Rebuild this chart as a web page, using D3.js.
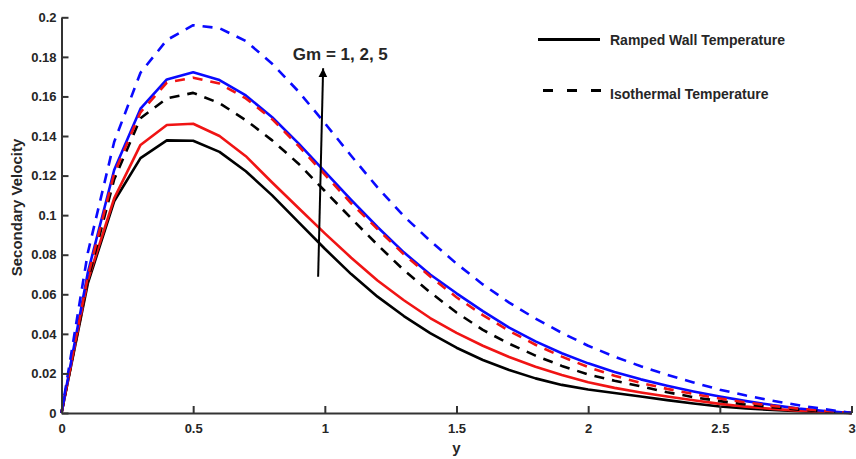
<!DOCTYPE html>
<html>
<head>
<meta charset="utf-8">
<script src="https://cdn.jsdelivr.net/npm/d3@7"></script>
<style>
    body { margin: 0; background: #fff; }
    svg { display: block; }
    text { font-family: "Liberation Sans", Arial, sans-serif; font-weight: bold; fill: #262626; }
</style>
</head>
<body>
<script>
// y positions (0 .. 3, step 0.1)
const yPos = [0, 0.1, 0.2, 0.3, 0.4, 0.5, 0.6, 0.7, 0.8, 0.9, 1.0,
    1.1, 1.2, 1.3, 1.4, 1.5, 1.6, 1.7, 1.8, 1.9, 2.0,
    2.1, 2.2, 2.3, 2.4, 2.5, 2.6, 2.7, 2.8, 2.9, 3.0];

// Ramped wall temperature (solid)
const rampGm1 = [0, 0.0655, 0.1070, 0.1288, 0.1378, 0.1376, 0.1320, 0.1222, 0.1100, 0.0965, 0.0830,
    0.0702, 0.0588, 0.0490, 0.0404, 0.0330, 0.0268, 0.0217, 0.0175, 0.0142, 0.0119,
    0.0101, 0.0083, 0.0065, 0.0048, 0.0033, 0.0023, 0.0015, 0.0009, 0.0004, 0];
const rampGm2 = [0, 0.0670, 0.1085, 0.1355, 0.1456, 0.1462, 0.1400, 0.1298, 0.1165, 0.1036, 0.0908,
    0.0785, 0.0670, 0.0570, 0.0480, 0.0405, 0.0340, 0.0283, 0.0234, 0.0192, 0.0155,
    0.0127, 0.0104, 0.0083, 0.0064, 0.0046, 0.0032, 0.0021, 0.0012, 0.0005, 0];
const rampGm5 = [0, 0.0710, 0.1228, 0.1538, 0.1686, 0.1722, 0.1683, 0.1605, 0.1495, 0.1363, 0.1220,
    0.1077, 0.0940, 0.0812, 0.0700, 0.0605, 0.0515, 0.0432, 0.0362, 0.0302, 0.0251,
    0.0207, 0.0170, 0.0138, 0.0109, 0.0083, 0.0060, 0.0040, 0.0023, 0.0010, 0];

// Isothermal temperature (dashed)
const isoGm1 = [0, 0.0670, 0.1180, 0.1490, 0.1590, 0.1618, 0.1566, 0.1480, 0.1378, 0.1260, 0.1122,
    0.0984, 0.0850, 0.0722, 0.0610, 0.0508, 0.0420, 0.0350, 0.0290, 0.0238, 0.0195,
    0.0163, 0.0135, 0.0105, 0.0080, 0.0060, 0.0043, 0.0029, 0.0017, 0.0008, 0];
const isoGm2 = [0, 0.0690, 0.1210, 0.1520, 0.1670, 0.1695, 0.1665, 0.1590, 0.1485, 0.1350, 0.1205,
    0.1060, 0.0930, 0.0802, 0.0690, 0.0585, 0.0495, 0.0415, 0.0345, 0.0285, 0.0232,
    0.0188, 0.0152, 0.0122, 0.0096, 0.0073, 0.0053, 0.0036, 0.0022, 0.0010, 0];
const isoGm5 = [0, 0.0810, 0.1370, 0.1720, 0.1885, 0.1960, 0.1945, 0.1880, 0.1765, 0.1625, 0.1465,
    0.1300, 0.1140, 0.0995, 0.0870, 0.0755, 0.0650, 0.0558, 0.0477, 0.0405, 0.0340,
    0.0285, 0.0236, 0.0193, 0.0154, 0.0118, 0.0088, 0.0062, 0.0039, 0.0019, 0];

const yTicks = [0, 0.02, 0.04, 0.06, 0.08, 0.1, 0.12, 0.14, 0.16, 0.18, 0.2];
const xTicks = [0, 0.5, 1, 1.5, 2, 2.5, 3];

const seriesList = [
    { values: rampGm1, color: "#000000", dashed: false },
    { values: rampGm2, color: "#f01414", dashed: false },
    { values: rampGm5, color: "#0a0aff", dashed: false },
    { values: isoGm1, color: "#000000", dashed: true },
    { values: isoGm2, color: "#f01414", dashed: true },
    { values: isoGm5, color: "#0a0aff", dashed: true }
];

const width = 856;
const height = 459;
const margin = { top: 17.3, right: 4.5, bottom: 46, left: 61.5 };

const svg = d3.select("body").append("svg")
    .attr("width", width)
    .attr("height", height);

const x = d3.scaleLinear().domain([0, 3]).range([margin.left, width - margin.right]);
const y = d3.scaleLinear().domain([0, 0.2]).range([height - margin.bottom, margin.top]);

// Curves
const line = d3.line()
    .x((d, i) => x(yPos[i]))
    .y(d => y(d));

svg.append("g")
    .selectAll("path")
    .data(seriesList)
    .join("path")
    .attr("d", d => line(d.values))
    .attr("fill", "none")
    .attr("stroke", d => d.color)
    .attr("stroke-width", 2.6)
    .attr("stroke-dasharray", d => d.dashed ? "10,8" : null)
    .attr("stroke-linejoin", "round");

// Axes (ticks point inward)
const xAxis = svg.append("g")
    .attr("transform", `translate(0,${y(0)})`)
    .call(d3.axisBottom(x).tickValues(xTicks).tickSizeInner(-7).tickSizeOuter(0).tickPadding(11)
        .tickFormat(d => String(d)));

const yAxis = svg.append("g")
    .attr("transform", `translate(${x(0)},0)`)
    .call(d3.axisLeft(y).tickValues(yTicks).tickSizeInner(-7).tickSizeOuter(0).tickPadding(5)
        .tickFormat(d => String(+d.toFixed(2))));

[xAxis, yAxis].forEach(ax => {
    ax.select(".domain").attr("stroke", "#333").attr("stroke-width", 2);
    ax.selectAll(".tick line").attr("stroke", "#333").attr("stroke-width", 2);
    ax.selectAll(".tick text").style("font-size", "13px").attr("fill", "#262626");
});

// Axis titles
svg.append("text")
    .attr("x", (x(0) + x(3)) / 2)
    .attr("y", 453)
    .attr("text-anchor", "middle")
    .style("font-size", "15px")
    .text("y");

svg.append("text")
    .attr("transform", `translate(22,${207.5}) rotate(-90)`)
    .attr("text-anchor", "middle")
    .style("font-size", "15px")
    .text("Secondary Velocity");

// Gm arrow annotation
svg.append("defs").append("marker")
    .attr("id", "arrowHead")
    .attr("viewBox", "0 0 10 10")
    .attr("refX", 10)
    .attr("refY", 5)
    .attr("markerWidth", 9)
    .attr("markerHeight", 10)
    .attr("markerUnits", "userSpaceOnUse")
    .attr("orient", "auto")
    .append("path")
    .attr("d", "M0,0 L10,5 L0,10 Z")
    .attr("fill", "#000");

svg.append("line")
    .attr("x1", x(0.9746))
    .attr("y1", y(0.0689))
    .attr("x2", x(0.9935))
    .attr("y2", y(0.1742))
    .attr("stroke", "#000")
    .attr("stroke-width", 2)
    .attr("marker-end", "url(#arrowHead)");

svg.append("text")
    .attr("x", x(0.8785))
    .attr("y", y(0.1784))
    .style("font-size", "17px")
    .attr("fill", "#111")
    .text("Gm = 1, 2, 5");

// Legend
const legendItems = [
    { label: "Ramped Wall Temperature", dashed: false, x1: 538, x2: 600, ly: 39.5, ty: 45 },
    { label: "Isothermal Temperature", dashed: true, x1: 543, x2: 603, ly: 90.5, ty: 99 }
];

const legend = svg.append("g").selectAll("g")
    .data(legendItems)
    .join("g");

legend.append("line")
    .attr("x1", d => d.x1)
    .attr("x2", d => d.x2)
    .attr("y1", d => d.ly)
    .attr("y2", d => d.ly)
    .attr("stroke", "#000")
    .attr("stroke-width", 2.8)
    .attr("stroke-dasharray", d => d.dashed ? "10,14" : null);

legend.append("text")
    .attr("x", 610)
    .attr("y", d => d.ty)
    .style("font-size", "14px")
    .attr("fill", "#1a1a1a")
    .text(d => d.label);
</script>
</body>
</html>
